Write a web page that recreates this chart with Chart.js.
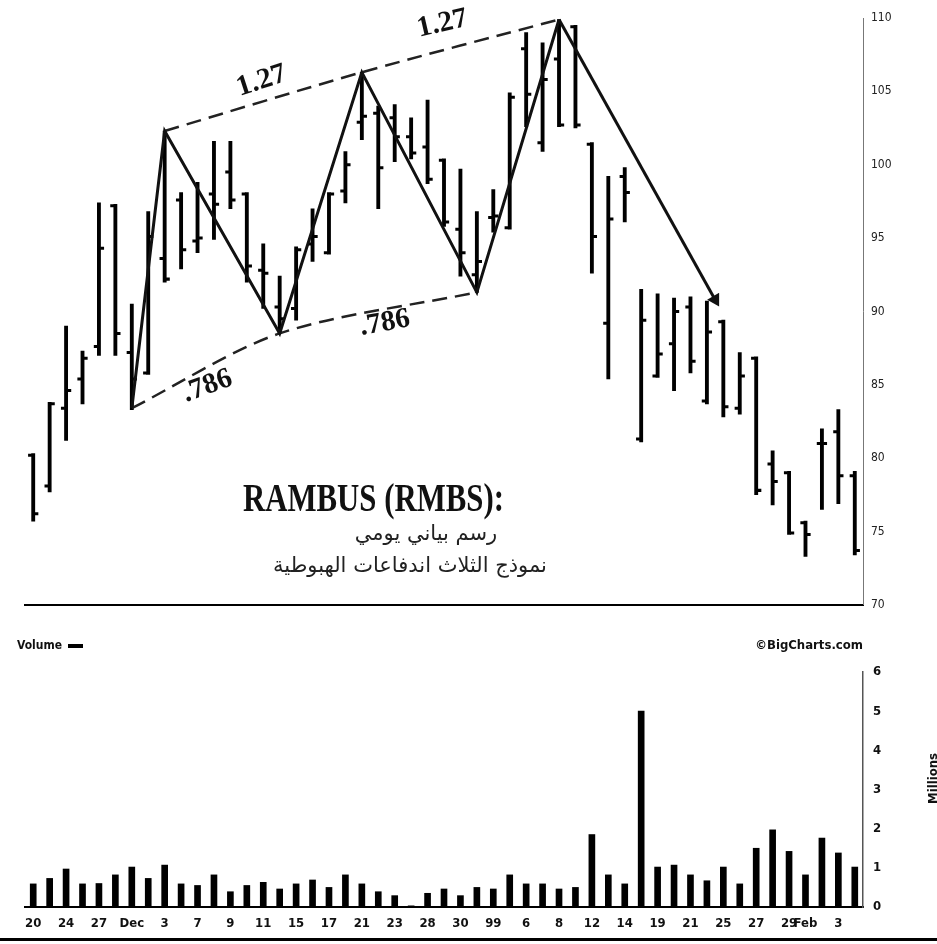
<!DOCTYPE html>
<html>
<head>
<meta charset="utf-8">
<script src="https://cdn.jsdelivr.net/npm/chart.js@4.4.1/dist/chart.umd.min.js"></script>
<style>
  body { margin: 0; background: #fff; width: 937px; height: 944px; position: relative; overflow: hidden; }
  canvas { position: absolute; left: 0; }
  .title { position: absolute; left: 0; width: 746px; top: 478px; text-align: center;
           font: bold 40px/40px "Liberation Serif", serif; color: #111; }
  .title span { display: inline-block; transform: scaleX(0.77); }
  .arabic { position: absolute; text-align: center; direction: rtl;
            font: 21px/24px "DejaVu Sans", sans-serif; color: #222; }
  .small { position: absolute; font: bold 12px/14px "DejaVu Sans Condensed", "DejaVu Sans", sans-serif; color: #111; }
  .dash { display: inline-block; width: 15px; height: 4px; background: #000; vertical-align: middle; margin-left: 6px; }
  .millions { position: absolute; left: 926px; top: 753px; writing-mode: vertical-rl; transform: rotate(180deg);
              font: bold 13px/14px "DejaVu Sans Condensed", sans-serif; color: #111; }
  .rule { position: absolute; left: 0; width: 937px; top: 938px; height: 3px; background: #000; }
</style>
</head>
<body>
<canvas id="priceChart" width="937" height="620" style="top:0"></canvas>
<canvas id="volumeChart" width="937" height="294" style="top:650px"></canvas>

<div class="title"><span>RAMBUS (RMBS):</span></div>
<div class="arabic" style="left:0; width:852px; top:521px">رسم بياني يومي</div>
<div class="arabic" style="left:0; width:820px; top:553px">نموذج الثلاث اندفاعات الهبوطية</div>
<div class="small" style="left:17px; top:638px">Volume<span class="dash"></span></div>
<div class="small" style="left:740px; top:638px; width:123px; text-align:right; font-size:13px">©BigCharts.com</div>
<div class="millions">Millions</div>
<div class="rule"></div>

<script>
// trading days, Nov 20 1998 .. Feb 4 1999 (empty = no label)
const dayLabels = ['20','','24','','27','','Dec','','3','','7','','9','','11','','15','','17','','21','','23','',
  '28','','30','','99','','6','','8','','12','','14','','19','','21','','25','','27','','29','Feb','','3',''];

const opens  = [80.2, 78.1, 83.4, 85.4, 87.6, 97.2, 87.2, 85.8, 93.6, 97.6, 94.8, 98.0, 99.5, 98.0, 92.8, 90.3, 90.2,
  94.6, 94.0, 98.2, 102.9, 103.5, 103.2, 101.9, 101.2, 100.3, 95.6, 92.5, 96.4, 95.7, 107.9, 101.5, 107.2, 109.4,
  101.4, 89.2, 99.2, 81.3, 85.6, 87.8, 90.3, 83.9, 89.3, 83.4, 86.8, 79.6, 79.0, 75.6, 81.0, 81.8, 78.8];
const highs  = [80.3, 83.8, 89.0, 87.3, 97.4, 97.3, 90.5, 96.8, 102.3, 98.1, 98.8, 101.6, 101.6, 98.1, 94.6, 92.4, 94.4,
  97.0, 98.1, 100.9, 106.3, 104.0, 104.1, 103.2, 104.4, 100.4, 99.7, 96.8, 98.3, 104.9, 109.0, 108.3, 109.9, 109.5,
  101.5, 99.2, 99.8, 91.5, 91.2, 90.9, 91.0, 90.7, 89.4, 87.2, 86.9, 80.5, 79.1, 75.7, 82.0, 83.3, 79.1];
const lows   = [75.7, 77.7, 81.2, 83.7, 87.0, 87.0, 83.3, 85.7, 92.0, 92.9, 94.0, 94.9, 97.0, 92.0, 90.2, 88.5, 89.4,
  93.4, 93.9, 97.4, 101.7, 97.0, 100.2, 100.4, 98.7, 95.8, 92.4, 91.3, 95.4, 95.6, 102.6, 100.9, 102.6, 102.5,
  92.6, 85.4, 96.1, 81.1, 85.5, 84.6, 85.8, 83.7, 82.8, 83.0, 77.5, 76.8, 74.8, 73.3, 76.5, 76.9, 73.4];
const closes = [76.2, 83.7, 84.6, 86.8, 94.3, 88.5, 85.4, 95.1, 92.2, 94.2, 95.0, 97.3, 97.6, 93.1, 92.6, 89.5, 94.2,
  95.1, 98.0, 100.0, 103.3, 99.8, 101.9, 100.8, 99.0, 96.1, 94.0, 93.4, 96.5, 104.6, 104.8, 105.8, 102.7, 102.7,
  95.1, 96.3, 98.1, 89.4, 87.1, 90.0, 86.6, 88.6, 83.5, 85.6, 77.8, 78.4, 74.9, 74.8, 81.0, 78.8, 73.7];

// volume, millions of shares
const volume = [0.59, 0.73, 0.97, 0.59, 0.60, 0.82, 1.02, 0.73, 1.07, 0.59, 0.55, 0.82, 0.39, 0.55, 0.63, 0.46, 0.59,
  0.69, 0.50, 0.82, 0.59, 0.39, 0.29, 0.03, 0.35, 0.46, 0.29, 0.50, 0.46, 0.82, 0.59, 0.59, 0.46, 0.50, 1.85, 0.82,
  0.59, 5.0, 1.02, 1.07, 0.82, 0.67, 1.02, 0.59, 1.50, 1.97, 1.42, 0.82, 1.76, 1.38, 1.02];

// hand-drawn pattern lines (day index, price)
const zigzagDays   = [6, 8, 15, 20, 27, 32];
const zigzagPrices = [83.4, 102.3, 88.5, 106.3, 91.3, 109.9];
const arrowDays    = [32, 41.5];
const arrowPrices  = [109.9, 90.8];
const upperDays    = [8, 20, 32];
const upperPrices  = [102.3, 106.3, 109.9];
const lowerDays    = [6, 15, 27];
const lowerPrices  = [83.4, 88.5, 91.3];

const ratioText   = ['1.27', '1.27', '.786', '.786'];
const ratioDays   = [13.9, 24.9, 10.6, 21.4];
const ratioPrices = [105.7, 109.6, 84.9, 89.2];
const ratioAngles = [-18, -13, -20, -10];

const dayIdx = dayLabels.map((_, i) => i);
const tickDays = dayIdx.filter(i => dayLabels[i] !== '');
const pts = (xs, ys) => xs.map((x, i) => ({ x: x, y: ys[i] }));

const tickFont = { family: '"DejaVu Sans Condensed", "DejaVu Sans", sans-serif', size: 13, weight: 'bold' };

// the ratio numbers written along the channel lines
const ratioLabels = {
  id: 'ratioLabels',
  afterDatasetsDraw(chart) {
    const { ctx, scales: { x, y } } = chart;
    ctx.save();
    ctx.font = 'bold 29px "Liberation Serif", serif';
    ctx.fillStyle = '#111';
    ctx.textAlign = 'center';
    ctx.textBaseline = 'middle';
    ratioText.forEach((t, i) => {
      ctx.save();
      ctx.translate(x.getPixelForValue(ratioDays[i]), y.getPixelForValue(ratioPrices[i]));
      ctx.rotate(ratioAngles[i] * Math.PI / 180);
      ctx.fillText(t, 0, 0);
      ctx.restore();
    });
    ctx.restore();
  }
};

const tick = 0.08;  // half height of open/close ticks, in price units

new Chart(document.getElementById('priceChart'), {
  type: 'bar',
  data: {
    datasets: [
      { data: dayIdx.map(i => ({ x: i, y: [opens[i] - tick, opens[i] + tick] })), backgroundColor: '#000', barThickness: 3.2, order: 1 },
      { data: dayIdx.map(i => ({ x: i, y: [lows[i], highs[i]] })), backgroundColor: '#000', barThickness: 3.2, order: 1 },
      { data: dayIdx.map(i => ({ x: i, y: [closes[i] - tick, closes[i] + tick] })), backgroundColor: '#000', barThickness: 3.2, order: 1 },
      { type: 'line', data: pts(zigzagDays, zigzagPrices), borderColor: '#111', borderWidth: 3, pointRadius: 0, order: 0 },
      { type: 'line', data: pts(arrowDays, arrowPrices), borderColor: '#111', borderWidth: 3, order: 0,
        pointRadius: [0, 8], pointStyle: 'triangle', pointRotation: 150, pointBackgroundColor: '#111', pointBorderWidth: 0 },
      { type: 'line', data: pts(upperDays, upperPrices), borderColor: '#222', borderWidth: 2.5, borderDash: [15, 8],
        tension: 0.3, pointRadius: 0, order: 0 },
      { type: 'line', data: pts(lowerDays, lowerPrices), borderColor: '#222', borderWidth: 2.5, borderDash: [15, 8],
        tension: 0.3, pointRadius: 0, order: 0 }
    ]
  },
  options: {
    responsive: false,
    animation: false,
    layout: { padding: { left: 25, top: 18, right: 0, bottom: 12 } },
    plugins: { legend: { display: false }, tooltip: { enabled: false } },
    scales: {
      x: {
        type: 'linear', min: -0.5, max: 50.5, offset: false,
        grid: { display: false, drawTicks: false },
        ticks: { display: false },
        border: { display: true, color: '#000', width: 2 },
        afterFit: a => { a.height = 0; }
      },
      y: {
        position: 'right', min: 70, max: 110,
        grid: { display: false, drawTicks: false },
        border: { display: true, color: '#777', width: 1 },
        ticks: { stepSize: 5, padding: 8, color: '#222',
                 font: { family: '"DejaVu Sans Condensed", "DejaVu Sans", sans-serif', size: 12 } },
        afterFit: a => { a.width = 74; }
      }
    }
  },
  plugins: [ratioLabels]
});

new Chart(document.getElementById('volumeChart'), {
  type: 'bar',
  data: {
    datasets: [
      { data: dayIdx.map(i => ({ x: i, y: volume[i] })), backgroundColor: '#000', barThickness: 6 }
    ]
  },
  options: {
    responsive: false,
    animation: false,
    layout: { padding: { left: 25, top: 22, right: 0, bottom: 7 } },
    plugins: { legend: { display: false }, tooltip: { enabled: false } },
    scales: {
      x: {
        type: 'linear', min: -0.5, max: 50.5, offset: false,
        grid: { display: false, drawTicks: false },
        border: { display: true, color: '#000', width: 2 },
        afterBuildTicks: a => { a.ticks = tickDays.map(v => ({ value: v })); },
        ticks: { autoSkip: false, maxRotation: 0, padding: 9, color: '#111', font: tickFont,
                 callback: v => dayLabels[v] },
        afterFit: a => { a.height = 30; }
      },
      y: {
        position: 'right', min: 0, max: 6,
        grid: { display: false, drawTicks: false },
        border: { display: true, color: '#555', width: 1.5 },
        ticks: { stepSize: 1, padding: 10, color: '#111', font: tickFont },
        afterFit: a => { a.width = 74; }
      }
    }
  }
});
</script>
</body>
</html>
